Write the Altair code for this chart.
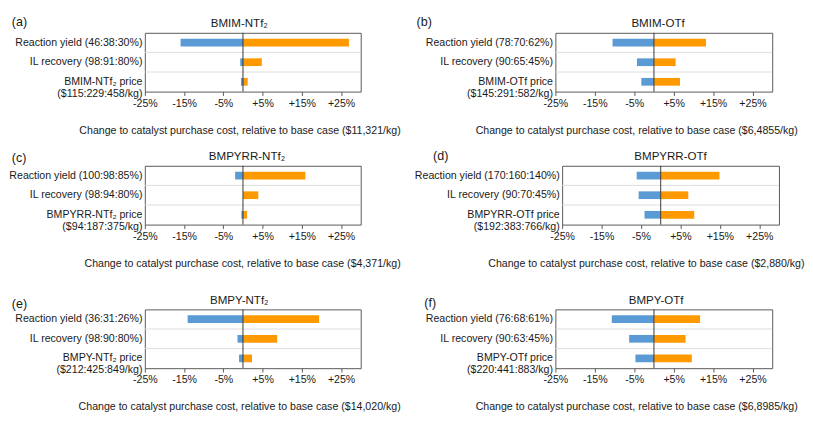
import altair as alt
import pandas as pd

# ---------------- data ----------------
letters = ["(a)", "(b)", "(c)", "(d)", "(e)", "(f)"]
titles = ["BMIM-NTf₂", "BMIM-OTf", "BMPYRR-NTf₂", "BMPYRR-OTf", "BMPY-NTf₂", "BMPY-OTf"]
categories = [
    ["Reaction yield (46:38:30%)", "IL recovery (98:91:80%)", "BMIM-NTf₂ price|($115:229:458/kg)"],
    ["Reaction yield (78:70:62%)", "IL recovery (90:65:45%)", "BMIM-OTf price|($145:291:582/kg)"],
    ["Reaction yield (100:98:85%)", "IL recovery (98:94:80%)", "BMPYRR-NTf₂ price|($94:187:375/kg)"],
    ["Reaction yield (170:160:140%)", "IL recovery (90:70:45%)", "BMPYRR-OTf price|($192:383:766/kg)"],
    ["Reaction yield (36:31:26%)", "IL recovery (98:90:80%)", "BMPY-NTf₂ price|($212:425:849/kg)"],
    ["Reaction yield (76:68:61%)", "IL recovery (90:63:45%)", "BMPY-OTf price|($220:441:883/kg)"],
]
low_values = [
    [-15.9, -0.7, -0.5],
    [-10.5, -4.3, -3.2],
    [-2.0, 0.0, -0.4],
    [-6.1, -5.6, -4.1],
    [-14.1, -1.4, -1.0],
    [-10.7, -6.3, -4.7],
]
high_values = [
    [27.0, 4.8, 1.2],
    [13.2, 5.5, 6.6],
    [15.9, 3.9, 1.05],
    [14.9, 7.0, 8.5],
    [19.4, 8.7, 2.3],
    [11.7, 8.0, 9.6],
]
base_costs = ["$11,321/kg", "$6,4855/kg", "$4,371/kg", "$2,880/kg", "$14,020/kg", "$6,8985/kg"]
tick_values = [-25, -22.5, -20, -17.5, -15, -12.5, -10, -7.5, -5, -2.5, 0, 2.5, 5,
               7.5, 10, 12.5, 15, 17.5, 20, 22.5, 25, 27.5, 30]

BLUE = "#5B9BD5"
ORANGE = "#FF9900"
TXT = "#1a1a1a"
FONT = "Liberation Sans"
H = 61


def panel(i, width, extent, title_over, letter_dx, letter_dy, title_dx):
    cats = categories[i]
    df = pd.DataFrame({
        "cat": cats + cats,
        "val": low_values[i] + high_values[i],
        "side": ["low"] * 3 + ["high"] * 3,
    })
    grid_df = pd.DataFrame({"cat": cats[1:]})
    zero_df = pd.DataFrame({"val": [0]})
    label_df = pd.DataFrame({"t": [letters[i]]})
    title_df = pd.DataFrame({"t": [titles[i]]})

    xscale = alt.Scale(domain=[-25, 30], nice=False, zero=False)
    yscale = alt.Scale(paddingInner=0, paddingOuter=0)

    bars = alt.Chart(df).mark_bar(size=8).encode(
        x=alt.X("val:Q", scale=xscale, axis=alt.Axis(
            values=tick_values,
            labelExpr="((datum.value + 25) % 10 == 0) ? ((datum.value > 0 ? '+' : '') + datum.value + '%') : ''",
            labelOverlap=False, labelFlush=False, grid=False, domain=False,
            tickSize=4, tickColor="#555", labelPadding=2,
            labelFontSize=11, labelColor=TXT,
            title="Change to catalyst purchase cost, relative to base case (" + base_costs[i] + ")",
            titleFontSize=11, titleFontWeight="normal", titleColor=TXT,
            titleAlign="right", titleX=width + title_over, titlePadding=17,
        )),
        x2=alt.datum(0),
        y=alt.Y("cat:N", sort=cats, scale=yscale, axis=alt.Axis(
            title=None, ticks=False, domain=False, grid=False,
            labelExpr="split(datum.label, '|')", labelPadding=3,
            minExtent=extent, labelFontSize=11, labelColor=TXT,
            labelLineHeight=12.5, labelLimit=0,
        )),
        color=alt.Color("side:N", scale=alt.Scale(domain=["low", "high"], range=[BLUE, ORANGE]), legend=None),
    )
    grid = alt.Chart(grid_df).mark_rule(color="#DDDDDD", strokeWidth=1, yOffset=-H / 6).encode(
        y=alt.Y("cat:N", sort=cats),
        x=alt.value(0), x2=alt.value(width),
    )
    zero = alt.Chart(zero_df).mark_rule(color="#333333", strokeWidth=1).encode(
        x=alt.X("val:Q"),
    )
    letter = alt.Chart(label_df).mark_text(
        align="left", baseline="middle", fontSize=13, color=TXT, font=FONT
    ).encode(text="t:N", x=alt.value(letter_dx), y=alt.value(letter_dy))
    title = alt.Chart(title_df).mark_text(
        align="center", baseline="middle", fontSize=12, color=TXT, font=FONT
    ).encode(text="t:N", x=alt.value(width / 2 + title_dx), y=alt.value(-10))

    return alt.layer(bars, grid, zero, letter, title).properties(width=width, height=H)


pa = panel(0, 224, 136, 41, -138, -11, -14)
pb = panel(1, 225, 146, 26, -144, -11, -6)
pc = panel(2, 224, 136, 41, -138, -8, -6)
pd_ = panel(3, 225, 146, 26, -134, -10, 0)
pe = panel(4, 224, 136, 41, -138, -5, -14)
pf = panel(5, 225, 146, 26, -136, -6, -8)

row1 = alt.hconcat(pa, pb, spacing=13)
row2 = alt.hconcat(pc, pd_, spacing=13)
row3 = alt.hconcat(pe, pf, spacing=13)

top = alt.vconcat(row1, row2, spacing=14)
chart = alt.vconcat(top, row3, spacing=25).properties(padding=0).configure(
    font=FONT
).configure_view(stroke="#555555", strokeWidth=1)

chart.save("out.html", embed_options={"renderer": "svg", "actions": False})
